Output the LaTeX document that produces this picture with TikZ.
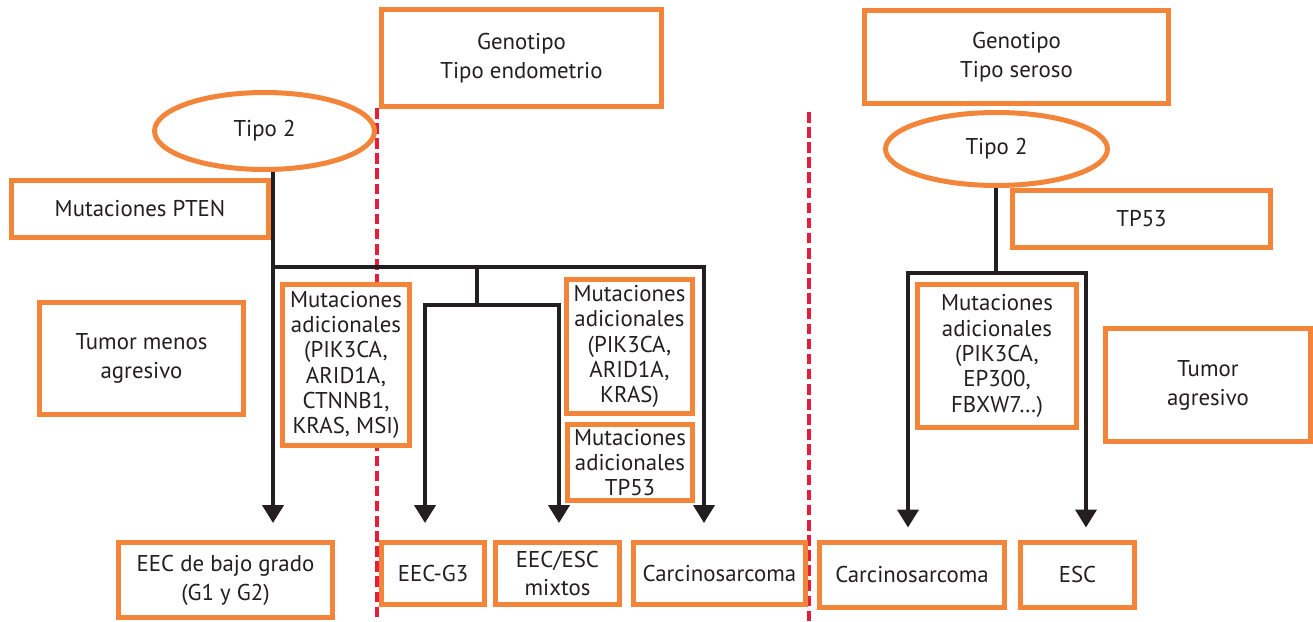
\documentclass[tikz,border=0pt]{standalone}
\usepackage{fontspec}
\setmainfont{PT Sans}
\usepackage{tikz}
\usetikzlibrary{arrows.meta}
\usetikzlibrary{shapes.geometric}

\definecolor{boxorange}{RGB}{242,133,58}
\definecolor{seprred}{RGB}{230,30,60}
\definecolor{inkgray}{RGB}{35,31,32}

\begin{document}
\begin{tikzpicture}[x=0.02cm, y=-0.02cm,
    box/.style={draw=boxorange, fill=white, line width=0.1cm, align=center, inner sep=1pt, text=inkgray, font=\fontsize{13}{16.5}\selectfont},
    mutbox/.style={box, font=\fontsize{13}{14.4}\selectfont},
    oval/.style={ellipse, draw=boxorange, fill=white, line width=0.1cm, inner sep=1pt, text=inkgray, font=\fontsize{13}{16.5}\selectfont},
    link/.style={draw=inkgray, line width=0.08cm, line join=miter},
    arr/.style={link, -{Triangle[length=3.6mm, width=4.2mm]}},
    sep/.style={draw=seprred, line width=2pt, dash pattern=on 6pt off 2.6pt}]

  \useasboundingbox (0,0) rectangle (1313,622);

  % dashed separators
  \draw[sep] (377,108) -- (377,622);
  \draw[sep] (809,112) -- (809,622);

  % endometrioid side
  \node[box, minimum width=5.6cm, minimum height=1.94cm] (genoA) at (521.5,58) {Genotipo\\Tipo endometrio};
  \node[oval, minimum width=4.4cm, minimum height=1.54cm] (tipoA) at (264.5,131) {Tipo 2};
  \node[box, minimum width=5.14cm, minimum height=1.14cm] (pten) at (140,209) {Mutaciones PTEN};
  \node[box, minimum width=4.08cm, minimum height=2.24cm] (menos) at (141.5,358.5) {Tumor menos\\agresivo};
  \node[mutbox, minimum width=2.54cm, minimum height=3.22cm] (mutA) at (346,365) {Mutaciones\\adicionales\\(PIK3CA,\\ARID1A,\\CTNNB1,\\KRAS, MSI)};
  \node[mutbox, minimum width=2.52cm, minimum height=2.68cm] (mutB) at (629.5,346.5) {Mutaciones\\adicionales\\(PIK3CA,\\ARID1A,\\KRAS)};
  \node[mutbox, minimum width=2.5cm, minimum height=1.52cm] (mutC) at (630,462.5) {Mutaciones\\adicionales\\TP53};
  \node[box, minimum width=4.28cm, minimum height=1.5cm] (lowEEC) at (225.5,580) {EEC de bajo grado\\(G1 y G2)};
  \node[box, minimum width=2.06cm, minimum height=1.24cm] (eecG3) at (433,573.5) {EEC-G3};
  \node[box, minimum width=2.48cm, minimum height=1.24cm] (mixtos) at (557.5,573.5) {EEC/ESC\\mixtos};
  \node[box, minimum width=3.44cm, minimum height=1.24cm] (carcA) at (719.5,573.5) {Carcinosarcoma};

  % serous side
  \node[box, minimum width=6.08cm, minimum height=1.86cm] (genoB) at (1016.5,57) {Genotipo\\Tipo seroso};
  \node[oval, minimum width=4.44cm, minimum height=1.46cm] (tipoB) at (996.5,149) {Tipo 2};
  \node[box, minimum width=5.16cm, minimum height=1.14cm] (tp53) at (1141.5,219) {TP53};
  \node[mutbox, minimum width=3.18cm, minimum height=2.86cm] (mutD) at (997,356) {Mutaciones\\adicionales\\(PIK3CA,\\EP300,\\FBXW7\ldots)};
  \node[box, minimum width=4.1cm, minimum height=2.26cm] (agres) at (1208,385) {Tumor\\agresivo};
  \node[box, minimum width=3.7cm, minimum height=1.3cm] (carcB) at (912,575) {Carcinosarcoma};
  \node[box, minimum width=2.28cm, minimum height=1.3cm] (esc) at (1077.5,575) {ESC};

  % tree of the endometrioid side
  \coordinate (hubA) at (273,267);
  \coordinate (splitA) at (477,267);
  \coordinate (forkA) at (477,305);
  \coordinate (dropG3) at (425,305);
  \coordinate (dropMix) at (559,305);
  \coordinate (dropCarc) at (704,267);
  \draw[arr, shorten >=0.34cm] (tipoA.south -| hubA) -- (lowEEC.north -| hubA);
  \draw[arr, shorten >=0.34cm] (hubA) -| (carcA.north -| dropCarc);
  \draw[link] (splitA) -- (forkA);
  \draw[arr, shorten >=0.34cm] (forkA) -| (eecG3.north -| dropG3);
  \draw[arr, shorten >=0.34cm] (forkA) -| (mixtos.north -| dropMix);

  % tree of the serous side
  \coordinate (hubB) at (996,273);
  \coordinate (dropCarcB) at (908,273);
  \coordinate (dropEsc) at (1086,273);
  \draw[link] (tipoB.south -| hubB) -- (hubB);
  \draw[arr, shorten >=0.25cm] (hubB) -| (carcB.north -| dropCarcB);
  \draw[arr, shorten >=0.25cm] (hubB) -| (esc.north -| dropEsc);
\end{tikzpicture}
\end{document}
